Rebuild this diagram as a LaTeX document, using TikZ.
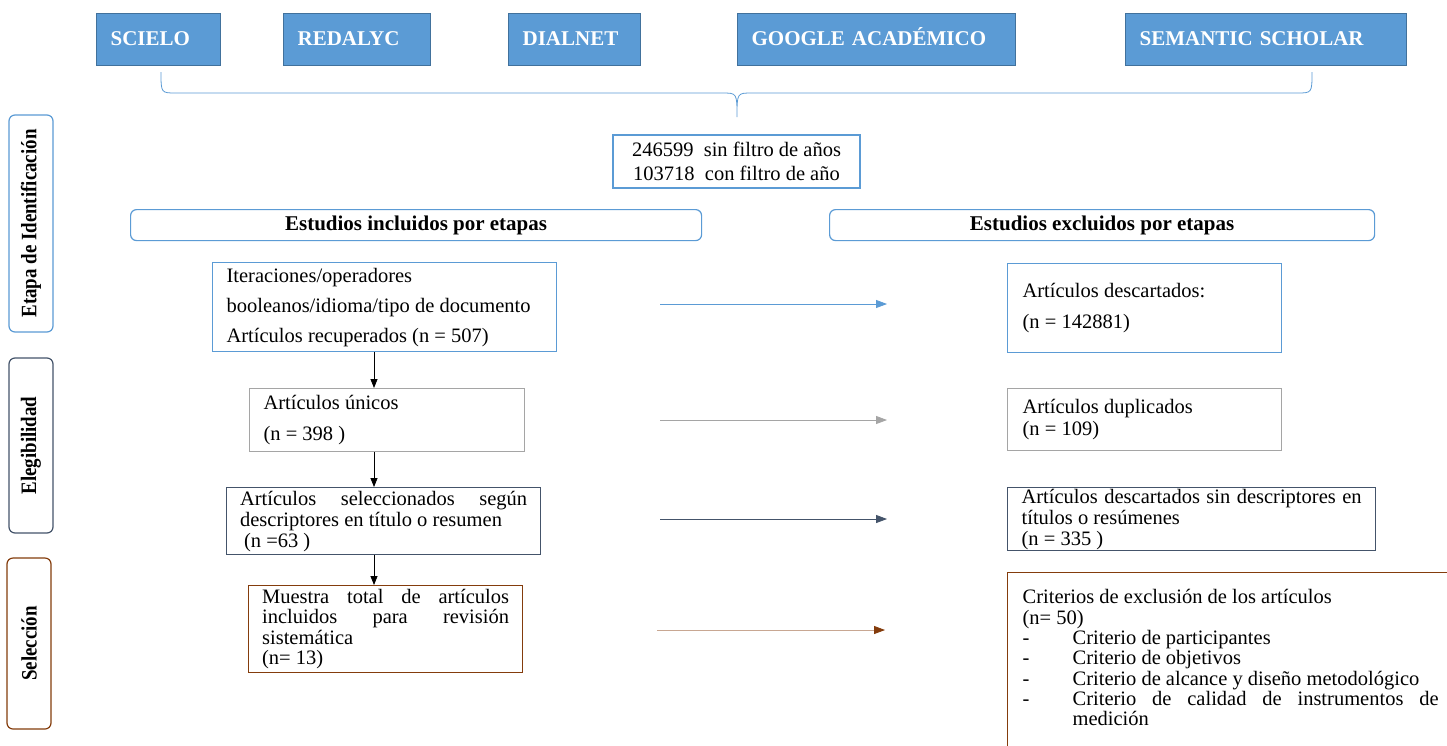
\documentclass[tikz,border=0pt]{standalone}
\usepackage{fontspec}
\setmainfont{Liberation Serif}
\newfontfamily\condserif[FakeStretch=0.86]{Liberation Serif}
\usepackage{xcolor}
\usepackage{tikz}
\usetikzlibrary{arrows.meta}
\definecolor{dbblue}{HTML}{5B9BD5}
\definecolor{dbedge}{HTML}{41719C}
\definecolor{stgray}{HTML}{A5A5A5}
\definecolor{stnavy}{HTML}{44546A}
\definecolor{stbrown}{HTML}{843C0C}

\begin{document}
\begin{tikzpicture}[x=1pt,y=-1pt,
  every node/.style={font=\fontsize{20.5}{21}\selectfont},
  dbbox/.style={draw=dbedge, fill=dbblue, line width=1.2pt, text=white, anchor=north west,
    minimum height=52pt, inner xsep=14pt, align=left, text height=14pt, text depth=3pt,
    font=\fontsize{21}{24}\selectfont\bfseries},
  stagebox/.style={draw=#1, rounded corners=6pt, line width=1.2pt, rotate=90,
    minimum height=44pt, font=\fontsize{22}{24}\condserif\bfseries},
  headbox/.style={draw=dbblue, rounded corners=6pt, line width=1.2pt, anchor=north west,
    minimum height=31pt, font=\fontsize{21}{24}\selectfont\bfseries},
  stepbox/.style={draw=#1, line width=1.2pt, anchor=north west, inner xsep=14pt, align=justify},
  flow/.style={-{Triangle[length=9pt,width=7pt]}, line width=0.8pt},
]
\path[use as bounding box, fill=white] (0,0) rectangle (1447,745);

\foreach \nm/\x/\tw/\lbl in {scielo/96/96/SCIELO, redalyc/283/119/REDALYC, dialnet/508/104/DIALNET,
  google/737/250/GOOGLE ACADÉMICO, semantic/1125/253/SEMANTIC SCHOLAR}
  \node[dbbox, text width=\tw pt] (\nm) at (\x,13) {\lbl};

\draw[dbblue, line width=0.8pt] (161,72) .. controls (161,93) and (161,93) .. (176,93) -- (722,93)
  .. controls (737,93) and (737,93) .. (737,117) .. controls (737,93) and (737,93) .. (752,93)
  -- (1297,93) .. controls (1312,93) and (1312,93) .. (1312,72);

\node[draw=dbblue, line width=1.2pt, minimum width=247pt, minimum height=53pt, align=center,
  font=\fontsize{20.5}{24}\selectfont] (total) at (736.5,161.5)
  {246599~ sin filtro de años\\103718~ con filtro de año};

\node[stagebox=dbblue, minimum width=217pt] (identif) at (31,223.5) {Etapa de Identificación};
\node[stagebox=stnavy, minimum width=175pt] (elegib) at (31,445.5) {Elegibilidad};
\node[stagebox=stbrown, minimum width=171pt] (selecc) at (29,643.5) {Selección};

\node[headbox, minimum width=571pt] (incl) at (130,209) {Estudios incluidos por etapas};
\node[headbox, minimum width=545pt] (excl) at (829,209) {Estudios excluidos por etapas};

\node[stepbox=dbblue, text width=316pt, minimum height=89pt] (recup) at (212,262)
  {Iteraciones/operadores\\[9pt] booleanos/idioma/tipo de documento\\[9pt] Artículos recuperados (n = 507)};
\node[stepbox=stgray, text width=247pt, minimum height=63pt] (unicos) at (249,388)
  {Artículos únicos\\[10pt] (n = 398 )};
\node[stepbox=stnavy, text width=287pt, minimum height=63pt, inner xsep=13.5pt] (selec) at (226,487)
  {\makebox[287pt][s]{Artículos\hfill seleccionados\hfill según}\\ descriptores en título o resumen\\ \hspace*{4pt}(n =63 )};
\node[stepbox=stbrown, text width=247pt, minimum height=87pt, inner xsep=13.5pt,
  font=\fontsize{20.5}{20.4}\selectfont] (muestra) at (248,585)
  {\makebox[247pt][s]{Muestra\hfill total\hfill de\hfill artículos}\\ \makebox[247pt][s]{incluidos\hfill para\hfill revisión}\\ sistemática\\ (n= 13)};

\node[stepbox=dbblue, text width=244pt, minimum height=89pt, inner xsep=15pt] (descart) at (1007,263)
  {Artículos descartados:\\[10pt] (n = 142881)};
\node[stepbox=stgray, text width=244pt, minimum height=62pt, inner xsep=15pt] (duplic) at (1007,388)
  {Artículos duplicados\\[1pt] (n = 109)};
\node[stepbox=stnavy, text width=340pt, minimum height=63pt, inner xsep=14pt, inner ysep=0pt] (sindesc) at (1007,487)
  {\makebox[340pt][s]{Artículos descartados sin descriptores en}\\ títulos o resúmenes\\ (n = 335 )};
\node[draw=stbrown, line width=1.2pt, anchor=north west, inner xsep=15pt, inner ysep=17pt,
  font=\fontsize{20.5}{20.3}\selectfont] (criterios) at (1007,572)
  {\parbox[t][180pt][t]{416pt}{Criterios de exclusión de los artículos\\
  (n= 50)\\
  \makebox[50pt][l]{-}Criterio de participantes\\
  \makebox[50pt][l]{-}Criterio de objetivos\\
  \makebox[50pt][l]{-}Criterio de alcance y diseño metodológico\\
  \makebox[50pt][l]{-}\makebox[366pt][s]{Criterio de calidad de instrumentos de}\\
  \hspace*{50pt}medición}};

\coordinate (vx) at (374,0);
\foreach \a/\b in {recup/unicos, unicos/selec, selec/muestra}
  \draw[flow] (\a.south -| vx) -- (\b.north -| vx);

\foreach \y/\c [count=\i] in {304/dbblue, 420/stgray, 519/stnavy} {
  \coordinate (hs\i) at (660,\y);
  \coordinate (he\i) at (887,\y);
  \draw[flow, draw=\c, -{Triangle[length=11pt,width=8pt]}] (hs\i) -- (he\i);
}
\coordinate (hs4) at (657,630);
\coordinate (he4) at (885,630);
\draw[flow, draw=stbrown!45, -{Triangle[length=11pt,width=8pt,color=stbrown]}] (hs4) -- (he4);

\end{tikzpicture}
\end{document}
